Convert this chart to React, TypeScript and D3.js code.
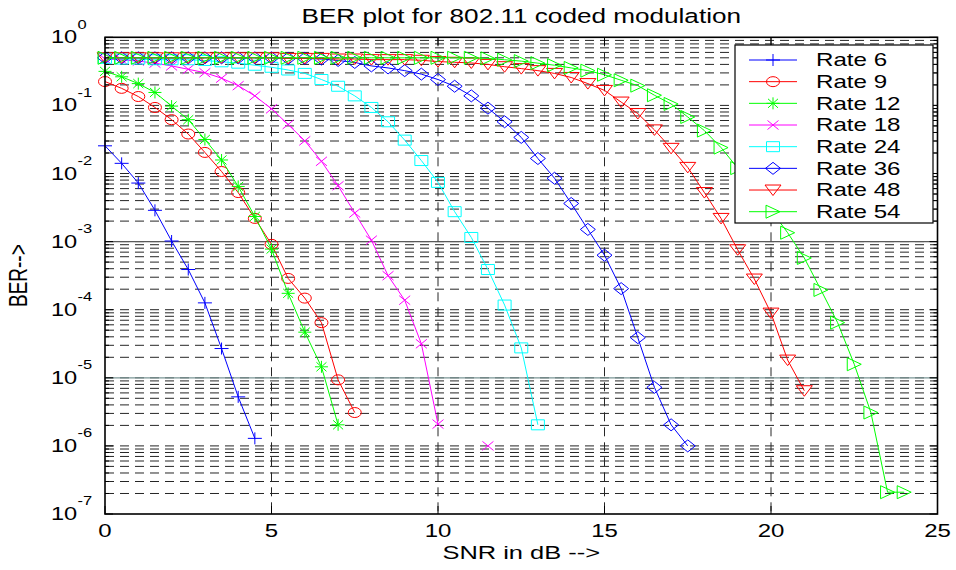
import React from 'react';
import * as d3 from 'd3';

const SNR = [0, 0.5, 1, 1.5, 2, 2.5, 3, 3.5, 4, 4.5, 5, 5.5, 6, 6.5, 7, 7.5, 8, 8.5, 9, 9.5, 10, 10.5, 11, 11.5, 12, 12.5, 13, 13.5, 14, 14.5, 15, 15.5, 16, 16.5, 17, 17.5, 18, 18.5, 19, 19.5, 20, 20.5, 21, 21.5, 22, 22.5, 23, 23.5, 24];

const LABELS = ['Rate 6', 'Rate 9', 'Rate 12', 'Rate 18', 'Rate 24', 'Rate 36', 'Rate 48', 'Rate 54'];
const COLORS = ['#0000ff', '#ff0000', '#00ff00', '#ff00ff', '#00ffff', '#0000ff', '#ff0000', '#00ff00'];
const MARKERS = ['plus', 'circle', 'star', 'x', 'square', 'diamond', 'tdown', 'tright'];

const BER_6 = [2.55e-2, 1.41e-2, 7.24e-3, 2.88e-3, 1.02e-3, 3.89e-4, 1.26e-4, 2.69e-5, 5.25e-6, 1.29e-6];
const BER_9 = [0.224, 0.178, 0.135, 9.33e-2, 6.17e-2, 3.8e-2, 2.04e-2, 1.07e-2, 5.25e-3, 2.19e-3, 9.12e-4, 2.88e-4, 1.48e-4, 6.46e-5, 9.33e-6, 3.09e-6];
const BER_12 = [0.316, 0.263, 0.209, 0.155, 9.77e-2, 6.17e-2, 3.16e-2, 1.58e-2, 6.46e-3, 2.34e-3, 7.76e-4, 1.74e-4, 4.68e-5, 1.45e-5, 2.04e-6];
const BER_18 = [0.479, 0.468, 0.447, 0.417, 0.38, 0.339, 0.302, 0.251, 0.195, 0.138, 8.91e-2, 5.25e-2, 3.02e-2, 1.51e-2, 6.61e-3, 2.63e-3, 1.05e-3, 3.16e-4, 1.38e-4, 3.16e-5, 2.09e-6, null, null, 1.0e-6];
const BER_24 = [0.49, 0.479, 0.479, 0.468, 0.468, 0.468, 0.457, 0.437, 0.417, 0.389, 0.363, 0.331, 0.295, 0.24, 0.191, 0.138, 9.33e-2, 5.75e-2, 3.09e-2, 1.55e-2, 7.41e-3, 2.75e-3, 1.15e-3, 3.89e-4, 1.17e-4, 2.75e-5, 2.04e-6];
const BER_36 = [0.5, 0.5, 0.5, 0.5, 0.5, 0.5, 0.5, 0.5, 0.5, 0.5, 0.5, 0.49, 0.49, 0.479, 0.457, 0.427, 0.38, 0.355, 0.324, 0.288, 0.24, 0.191, 0.138, 9.12e-2, 5.75e-2, 3.39e-2, 1.66e-2, 8.51e-3, 3.63e-3, 1.51e-3, 6.31e-4, 2.04e-4, 3.89e-5, 7.24e-6, 2.04e-6, 1.0e-6];
const BER_48 = [0.5, 0.5, 0.5, 0.5, 0.5, 0.5, 0.5, 0.5, 0.5, 0.5, 0.5, 0.49, 0.49, 0.49, 0.48, 0.48, 0.47, 0.47, 0.47, 0.46, 0.44, 0.43, 0.42, 0.4, 0.37, 0.347, 0.324, 0.295, 0.257, 0.209, 0.166, 0.112, 7.59e-2, 4.37e-2, 2.34e-2, 1.23e-2, 5.25e-3, 2.19e-3, 7.59e-4, 2.82e-4, 8.91e-5, 1.82e-5, 6.46e-6];
const BER_54 = [0.5, 0.5, 0.5, 0.5, 0.5, 0.5, 0.5, 0.5, 0.5, 0.5, 0.5, 0.5, 0.5, 0.5, 0.5, 0.5, 0.5, 0.5, 0.5, 0.5, 0.5, 0.5, 0.5, 0.49, 0.468, 0.447, 0.417, 0.389, 0.355, 0.324, 0.282, 0.234, 0.195, 0.141, 0.105, 6.76e-2, 4.27e-2, 2.4e-2, 1.2e-2, 6.03e-3, 2.88e-3, 1.35e-3, 5.75e-4, 1.95e-4, 6.46e-5, 1.58e-5, 3.09e-6, 2.09e-7, 2.09e-7];

const SERIES_VALUES = [BER_6, BER_9, BER_12, BER_18, BER_24, BER_36, BER_48, BER_54];

const X_TICKS = [0, 5, 10, 15, 20, 25];
const Y_EXPONENTS = [0, -1, -2, -3, -4, -5, -6, -7];

const TITLE = 'BER plot for 802.11 coded modulation';
const X_LABEL = 'SNR in dB -->';
const Y_LABEL = 'BER-->';

const W = 956;
const H = 570;
const L = 105;
const R = 937.5;
const T = 37.3;
const B = 514;
const FONT = '"Liberation Sans", Arial, Helvetica, sans-serif';
const SX = 1.35;

function markerPath(kind: string): string {
  switch (kind) {
    case 'plus': return 'M-7,0H7M0,-6V6';
    case 'star': return 'M-6.5,0H6.5M0,-6V6M-5,-4.5L5,4.5M-5,4.5L5,-4.5';
    case 'x': return 'M-5.5,-4.5L5.5,4.5M-5.5,4.5L5.5,-4.5';
    case 'square': return 'M-6.5,-5H6.5V5H-6.5Z';
    case 'diamond': return 'M0,-6L7.5,0L0,6L-7.5,0Z';
    case 'tdown': return 'M-8,-5L8,-5L0,5.5Z';
    case 'tright': return 'M-7,-6.5L7,0L-7,6.5Z';
    default: return '';
  }
}

function Marker({ kind, x, y, color }: { kind: string; x: number; y: number; color: string }) {
  if (kind === 'circle') {
    return <ellipse cx={x} cy={y} rx={6.5} ry={5} fill="none" stroke={color} strokeWidth={1} />;
  }
  return <path d={markerPath(kind)} transform={`translate(${x},${y})`} fill="none" stroke={color} strokeWidth={1} />;
}

export default function App() {
  const x = d3.scaleLinear().domain([0, 25]).range([L, R]);
  const y = d3.scaleLog().domain([1e-7, 1]).range([B, T]);

  const minor: number[] = [];
  const major: number[] = [];
  for (let e = -7; e <= 0; e++) {
    major.push(Math.pow(10, e));
    if (e < 0) for (let m = 2; m <= 9; m++) minor.push(m * Math.pow(10, e));
  }

  const series = SERIES_VALUES.map((vals, i) => ({
    label: LABELS[i],
    color: COLORS[i],
    marker: MARKERS[i],
    pts: vals.map((v, j) => ({ x: SNR[j], v })),
  }));

  const line = d3.line<{ x: number; v: number | null }>()
    .defined(d => d.v != null && d.v > 0)
    .x(d => x(d.x))
    .y(d => y(d.v as number));

  const dash = '9,6';
  const legX = 735, legY = 45, legW = 198, legH = 178;

  return (
    <div style={{ position: 'absolute', left: 0, top: 0 }}>
      <svg width={W} height={H} style={{ display: 'block', background: '#fff' }} fontFamily={FONT}>
        <rect x={0} y={0} width={W} height={H} fill="#fff" />
        {/* horizontal grid */}
        {[...minor, ...major.slice(1, -1)].map((v, i) => (
          <line key={'hg' + i} x1={L} x2={R} y1={y(v)} y2={y(v)} stroke="#262626" strokeWidth={1} strokeDasharray={dash} />
        ))}
        {[1e-3, 1e-5].map((v, i) => (
          <line key={'hs' + i} x1={L} x2={R} y1={y(v)} y2={y(v)} stroke={i === 0 ? '#5a5a5a' : '#7a9696'} strokeWidth={1.2} />
        ))}
        {/* vertical grid */}
        {X_TICKS.slice(1, -1).map((t, i) => (
          <line key={'vg' + i} x1={x(t)} x2={x(t)} y1={T} y2={B} stroke="#262626" strokeWidth={1} strokeDasharray={dash} />
        ))}
        {/* series */}
        {series.map((s, i) => (
          <g key={'s' + i}>
            <path d={line(s.pts as any) || ''} fill="none" stroke={s.color} strokeWidth={1} />
            {s.pts.filter(p => p.v != null && (p.v as number) > 0).map((p, j) => (
              <Marker key={j} kind={s.marker} x={x(p.x)} y={y(p.v as number)} color={s.color} />
            ))}
          </g>
        ))}
        {/* axes box */}
        <rect x={L} y={T} width={R - L} height={B - T} fill="none" stroke="#000" strokeWidth={1.6} />
        {/* y ticks */}
        {major.map((v, i) => (
          <g key={'ymt' + i}>
            <line x1={L} x2={L + 8} y1={y(v)} y2={y(v)} stroke="#000" strokeWidth={1} />
            <line x1={R - 8} x2={R} y1={y(v)} y2={y(v)} stroke="#000" strokeWidth={1} />
          </g>
        ))}
        {minor.map((v, i) => (
          <g key={'ynt' + i}>
            <line x1={L} x2={L + 4} y1={y(v)} y2={y(v)} stroke="#000" strokeWidth={1} />
            <line x1={R - 4} x2={R} y1={y(v)} y2={y(v)} stroke="#000" strokeWidth={1} />
          </g>
        ))}
        {/* x ticks */}
        {X_TICKS.map((t, i) => (
          <g key={'xt' + i}>
            <line x1={x(t)} x2={x(t)} y1={B} y2={B - 8} stroke="#000" strokeWidth={1} />
            <line x1={x(t)} x2={x(t)} y1={T} y2={T + 8} stroke="#000" strokeWidth={1} />
            <text transform={`translate(${x(t)},537) scale(${SX},1)`} textAnchor="middle" fontSize={17.8} fill="#000">{String(t)}</text>
          </g>
        ))}
        {/* y tick labels */}
        {Y_EXPONENTS.map((e, i) => {
          const ty = y(Math.pow(10, e));
          return (
            <g key={'yl' + i}>
              <text transform={`translate(51,${ty + 6}) scale(${SX},1)`} fontSize={17.5} fill="#000">10</text>
              <text transform={`translate(77.5,${ty - 8.7}) scale(${SX},1)`} fontSize={12.2} fill="#000">{String(e)}</text>
            </g>
          );
        })}
        {/* legend */}
        <rect x={legX} y={legY} width={legW} height={legH} fill="#fff" stroke="#000" strokeWidth={1.2} />
        {series.map((s, i) => {
          const ly = 60 + i * 21.67;
          return (
            <g key={'lg' + i}>
              <line x1={749} x2={797} y1={ly} y2={ly} stroke={s.color} strokeWidth={1} />
              <Marker kind={s.marker} x={773} y={ly} color={s.color} />
              <text transform={`translate(816,${ly + 6.3}) scale(1.38,1)`} fontSize={17.5} fill="#000">{s.label}</text>
            </g>
          );
        })}
        {/* title and labels */}
        <text transform={`translate(${(L + R) / 2},23.3) scale(1.34,1)`} textAnchor="middle" fontSize={19.5} fill="#000">{TITLE}</text>
        <text transform={`translate(${(L + R) / 2},559) scale(1.34,1)`} textAnchor="middle" fontSize={19} fill="#000">{X_LABEL}</text>
        <text transform={`translate(27,${(T + B) / 2}) rotate(-90) scale(1,1.34)`} textAnchor="middle" fontSize={19} fill="#000">{Y_LABEL}</text>
      </svg>
    </div>
  );
}
